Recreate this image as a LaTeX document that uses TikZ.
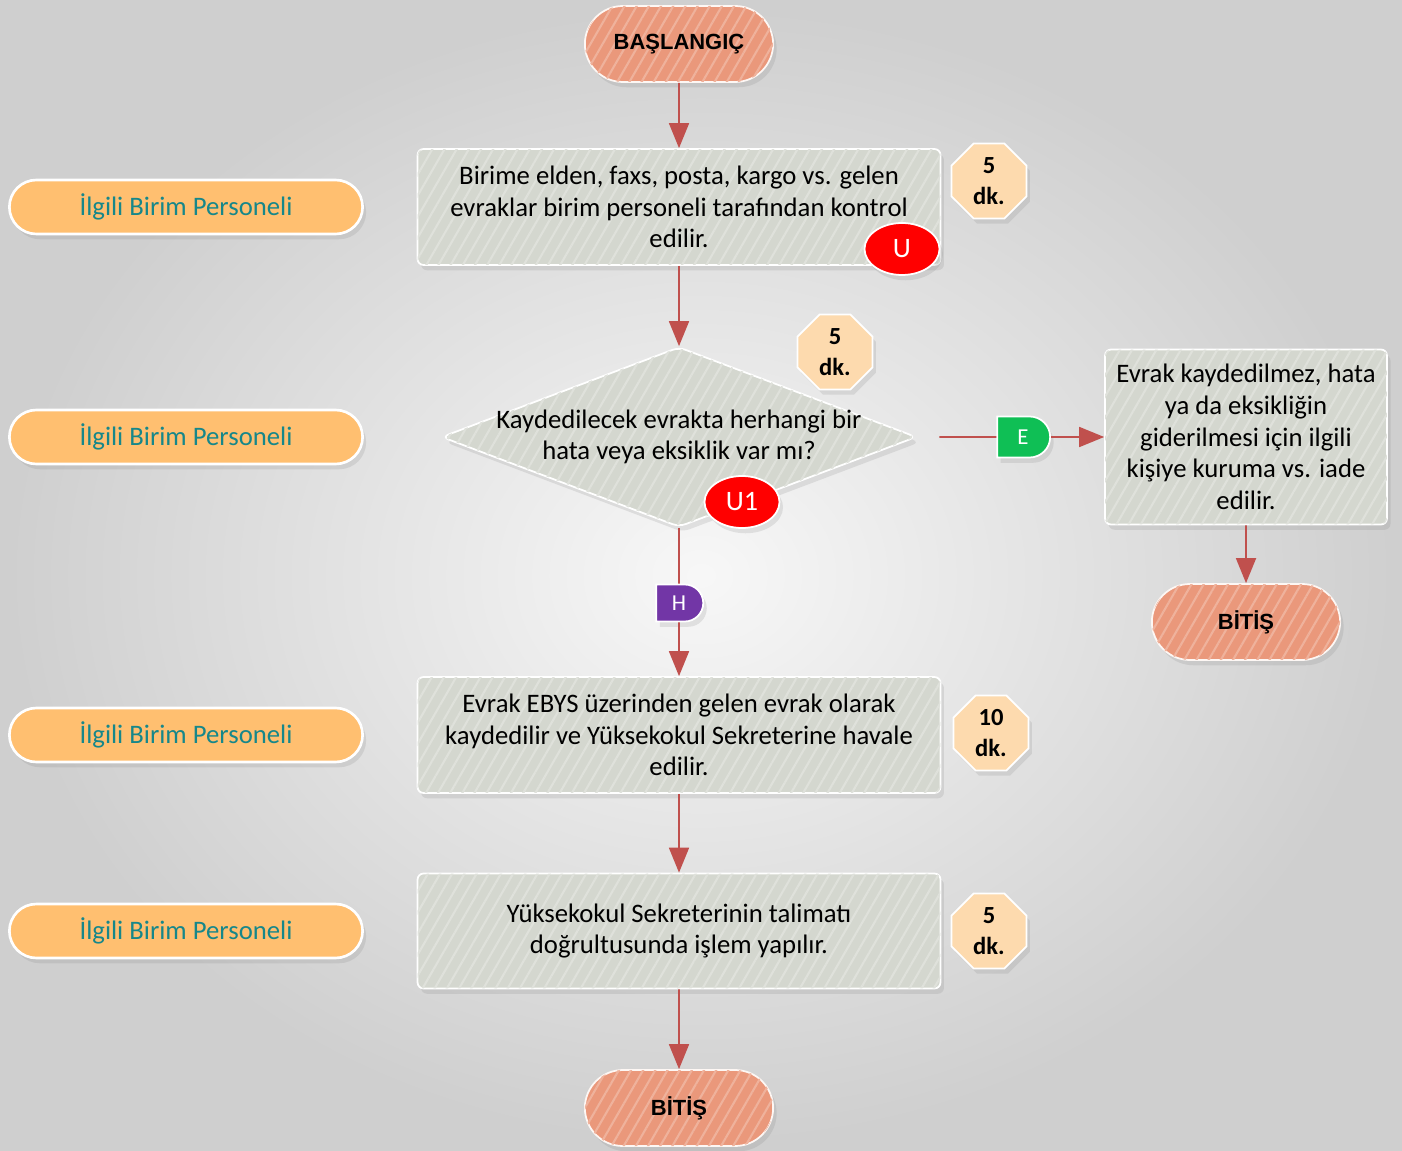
\documentclass[tikz,border=0pt]{standalone}
\usepackage{fontspec}
\setmainfont{Carlito}
\newfontfamily\arialfont{Liberation Sans}
\usetikzlibrary{positioning, arrows.meta, shapes.geometric, shapes.misc, shadows, patterns.meta}

\definecolor{arrowred}{HTML}{C0504D}
\definecolor{salmon}{HTML}{EA987B}
\definecolor{boxgray}{HTML}{D4D7CF}
\definecolor{pillorange}{HTML}{FFBF70}
\definecolor{tealtext}{HTML}{16878A}
\definecolor{timefill}{HTML}{FDDAAE}
\definecolor{ugreen}{HTML}{0FBF55}
\definecolor{hpurple}{HTML}{7236A6}

\tikzset{
  soft/.style={drop shadow={opacity=0.18, shadow xshift=2pt, shadow yshift=-3pt}},
  stripes/.style={postaction={pattern={Lines[angle=60, distance=6pt, line width=1.2pt]}, pattern color=#1}},
  flow/.style={draw=arrowred, line width=1pt, -{Triangle[length=5mm, width=4mm]}},
  link/.style={draw=arrowred, line width=1pt},
  endpill/.style={rounded rectangle, soft, fill=salmon, stripes=salmon!75!white, draw=white!92!salmon, line width=1pt,
    minimum width=4.0cm, minimum height=1.52cm, font=\arialfont\bfseries\fontsize{12.5}{14}\selectfont},
  stepbox/.style={rectangle, rounded corners=0.12cm, soft, fill=boxgray, stripes=boxgray!75!white, draw=white, line width=1pt,
    minimum width=10.46cm, minimum height=2.32cm, align=center, font=\fontsize{15.2}{18}\selectfont},
  rolepill/.style={rounded rectangle, soft, fill=pillorange, draw=white, line width=1.5pt,
    minimum width=7.3cm, minimum height=1.08cm, text=tealtext, font=\fontsize{15.2}{17}\selectfont},
  timebox/.style={regular polygon, regular polygon sides=8, soft, fill=timefill, draw=white, line width=1pt,
    minimum size=1.62cm, inner sep=0pt, align=center, font=\bfseries\fontsize{14}{18}\selectfont},
  riskmark/.style={ellipse, fill=red, draw=white, line width=1pt, soft, minimum width=1.5cm,
    minimum height=1.04cm, inner sep=0pt, text=white, font=\fontsize{16}{18}\selectfont},
  tagmark/.style={rounded rectangle, rounded rectangle west arc=none, draw=white, line width=1pt, soft,
    text=white, inner sep=0pt, font=\fontsize{13}{15}\selectfont}
}

\begin{document}
\begin{tikzpicture}[x=0.02cm, y=-0.02cm]

%Background
\fill[inner color=white!97!black, outer color=white!81!black] (0,0) rectangle (1402,1151);
\useasboundingbox (0,0) rectangle (1402,1151);

%Main column
\node (start) at (679,44) [endpill] {BAŞLANGIÇ};
\node (step1) at (679,207) [stepbox] {Birime elden, faxs, posta, kargo vs. gelen\\evraklar birim personeli tarafından kontrol\\edilir.};
\node (check) at (679,437) [diamond, rounded corners=4pt, soft, fill=boxgray, stripes=boxgray!75!white, draw=white, line width=1pt,
  minimum width=9.5cm, minimum height=3.6cm, inner sep=0pt] {};
\node (checktext) at (679,437) [align=center, font=\fontsize{15.2}{18}\selectfont] {Kaydedilecek evrakta herhangi bir\\hata veya eksiklik var mı?};
\node (step3) at (679,735) [stepbox] {Evrak EBYS üzerinden gelen evrak olarak\\kaydedilir ve Yüksekokul Sekreterine havale\\edilir.};
\node (step4) at (679,931) [stepbox, minimum height=2.3cm] {Yüksekokul Sekreterinin talimatı\\doğrultusunda işlem yapılır.};
\node (endB) at (679,1108) [endpill] {BİTİŞ};

%Right branch
\node (reject) at (1246,437) [stepbox, minimum width=5.64cm, minimum height=3.5cm] {Evrak kaydedilmez, hata\\ya da eksikliğin\\giderilmesi için ilgili\\kişiye kuruma vs. iade\\edilir.};
\node (endR) at (1246,622) [endpill] {BİTİŞ};

%Roles
\node (role1) at (186,207) [rolepill] {İlgili Birim Personeli};
\node (role2) at (186,437) [rolepill] {İlgili Birim Personeli};
\node (role3) at (186,735) [rolepill] {İlgili Birim Personeli};
\node (role4) at (186,931) [rolepill] {İlgili Birim Personeli};

%Times
\node (time1) at (989,181) [timebox] {5\\dk.};
\node (time2) at (835,352) [timebox] {5\\dk.};
\node (time3) at (991,733) [timebox] {10\\dk.};
\node (time4) at (989,931) [timebox] {5\\dk.};

%Connectors
\draw[flow] (start) -- (step1);
\draw[flow] (step1) -- (check);
\draw[link] (check.south) -- (679,585) coordinate (hin);
\node (hmark) at (679,603) [tagmark, fill=hpurple, minimum width=0.94cm, minimum height=0.74cm] {H};
\draw[flow] (hmark) -- (step3);
\draw[flow] (step3) -- (step4);
\draw[flow] (step4) -- (endB);

\node (emark) at (1023,437) [tagmark, fill=ugreen, minimum width=1.06cm, minimum height=0.82cm] {E};
\draw[link, shorten <=0.44cm] (check.east) -- (emark);
\draw[flow] (emark) -- (reject);
\draw[flow] (reject) -- (endR);

%Risk marks
\node (u0) at (902,249) [riskmark] {U};
\node (u1) at (742,502) [riskmark] {U1};

\end{tikzpicture}
\end{document}
